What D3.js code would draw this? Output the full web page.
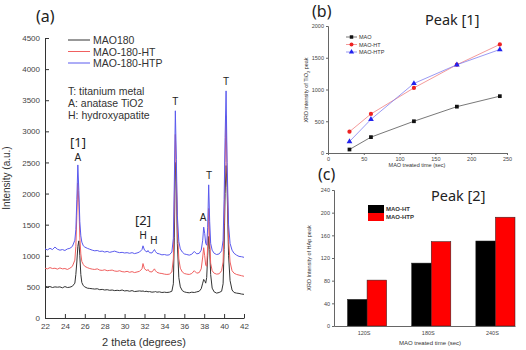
<!DOCTYPE html>
<html>
<head>
<meta charset="utf-8">
<script src="https://cdn.jsdelivr.net/npm/d3@7"></script>
<style>
body{margin:0;background:#fff}
text{font-family:"Liberation Sans",Arial,sans-serif}
.big{font-family:"Noto Sans","Open Sans",sans-serif}
</style>
</head>
<body>
<div id="chart"></div>
<script>
// ---- panel (a) : XRD patterns ----
var twoTheta = [
  22, 22.25, 22.5, 22.75, 23, 23.25, 23.5, 23.75, 24, 24.25, 24.5, 24.75,
  25, 25.1, 25.2, 25.3, 25.4, 25.5, 25.6, 25.7, 25.85, 26,
  26.25, 26.5, 26.75, 27, 27.25, 27.5, 27.75, 28, 28.25, 28.5, 28.75, 29,
  29.25, 29.5, 29.75, 30, 30.25, 30.5, 30.75, 31, 31.25, 31.5, 31.75, 31.85,
  32, 32.25, 32.35, 32.5, 32.75, 33, 33.1, 33.25, 33.5, 33.75, 34, 34.25,
  34.5, 34.75, 34.9, 35, 35.1, 35.2, 35.3, 35.45, 35.6, 35.8,
  36, 36.25, 36.5, 36.75, 37, 37.25, 37.5, 37.7, 37.85, 37.95,
  38.05, 38.15, 38.25, 38.35, 38.45, 38.55, 38.65, 38.8, 39, 39.25,
  39.5, 39.75, 39.9, 40, 40.1, 40.2, 40.3, 40.45, 40.6, 40.8,
  41, 41.25, 41.5, 41.75, 42];
var mao180 = [
  510, 500, 505, 490, 500, 495, 500, 485, 505, 490, 495, 510,
  560, 700, 900, 1150, 1240, 1000, 700, 570, 520, 500,
  480, 475, 470, 465, 470, 455, 460, 450, 455, 445, 450, 440,
  445, 440, 450, 435, 440, 430, 440, 425, 430, 435, 430, 435,
  425, 430, 420, 425, 415, 420, 425, 415, 420, 410, 415, 410,
  415, 430, 550, 1300, 2500, 2200, 1200, 650, 500, 440,
  420, 410, 405, 415, 410, 420, 430, 470, 560, 620,
  600, 560, 650, 1000, 1310, 1100, 700, 480, 420, 400,
  410, 430, 550, 1100, 2000, 2450, 2100, 1000, 600, 450,
  410, 400, 395, 385, 380];
var mao180HT = [
  800, 790, 810, 795, 800, 785, 805, 790, 795, 780, 800, 830,
  930, 1150, 1650, 2170, 1850, 1300, 1030, 910, 860, 830,
  810, 795, 785, 780, 790, 770, 765, 775, 760, 765, 770, 755,
  750, 760, 745, 740, 750, 735, 745, 730, 740, 750, 790, 875,
  790, 760, 780, 745, 740, 790, 760, 735, 720, 715, 705, 700,
  705, 740, 950, 1900, 2950, 2350, 1450, 950, 800, 740,
  715, 705, 700, 715, 760, 720, 730, 790, 980, 1130,
  1000, 850, 830, 1150, 1760, 1250, 880, 760, 720, 705,
  710, 760, 900, 1500, 2500, 3250, 2300, 1250, 900, 760,
  720, 700, 690, 680, 670];
var mao180HTP = [
  1110, 1095, 1120, 1100, 1140, 1105, 1090, 1100, 1085, 1110, 1120, 1150,
  1250, 1420, 1900, 2460, 2050, 1550, 1320, 1220, 1160, 1140,
  1120, 1105, 1090, 1080, 1085, 1070, 1075, 1060, 1070, 1055, 1065, 1075,
  1060, 1050, 1055, 1045, 1050, 1040, 1050, 1035, 1045, 1060, 1100, 1160,
  1090, 1060, 1085, 1050, 1045, 1100, 1070, 1040, 1030, 1015, 1020, 1010,
  1015, 1060, 1280, 2200, 3330, 2550, 1650, 1230, 1110, 1060,
  1030, 1020, 1010, 1025, 1070, 1030, 1040, 1090, 1250, 1460,
  1360, 1200, 1170, 1450, 2140, 1550, 1200, 1090, 1040, 1020,
  1030, 1080, 1250, 1900, 2900, 3650, 2500, 1500, 1200, 1090,
  1040, 1010, 990, 985, 975];
var xrdNames = ['MAO180', 'MAO-180-HT', 'MAO-180-HTP'];
var xrdColors = ['#333', '#f06060', '#5a5aee'];
// peak labels [2theta, intensity, text]
var peakLabels = [[25.3, 2520, 'A'], [35.1, 3430, 'T'], [40.2, 3750, 'T'],
                  [38.5, 2240, 'T'], [37.9, 1560, 'A'], [31.85, 1270, 'H'], [32.95, 1190, 'H']];

// ---- panel (b) : peak [1] ----
var timeB = [30, 60, 120, 180, 240];
var tio2MAO = [55, 250, 500, 730, 895];
var tio2HT = [335, 615, 1025, 1390, 1710];
var tio2HTP = [180, 530, 1095, 1390, 1630];

// ---- panel (c) : peak [2] ----
var timeC = ['120S', '180S', '240S'];
var hapHT = [47, 111, 150];
var hapHTP = [81, 149, 192];

var W = 526, H = 350;
var svg = d3.select('#chart').append('svg')
    .attr('width', W).attr('height', H);

function styleAxis(size, col){
  return function(g){
    g.selectAll('text').attr('font-size', size).style('fill', '#444');
    g.selectAll('line,path').attr('stroke', col);
  };
}

// ================= (a) =================
var xa = d3.scaleLinear().domain([22, 42]).range([45, 244]);
var ya = d3.scaleLinear().domain([0, 4500]).range([318, 38]);

var ga = svg.append('g');
ga.append('g').attr('transform', 'translate(0,318)')
  .call(d3.axisBottom(xa).tickValues(d3.range(22, 43, 2)).tickSizeInner(-4).tickSizeOuter(0).tickPadding(5))
  .call(styleAxis(8, '#333'));
ga.append('g').attr('transform', 'translate(45,0)')
  .call(d3.axisLeft(ya).tickValues(d3.range(0, 4501, 500)).tickFormat(d3.format('d'))
        .tickSizeInner(-4).tickSizeOuter(0).tickPadding(5))
  .call(styleAxis(8, '#333'));

var lineA = d3.line().x(function(d){ return xa(d[0]); }).y(function(d){ return ya(d[1]); });
[mao180, mao180HT, mao180HTP].forEach(function(s, i){
  ga.append('path')
    .datum(twoTheta.map(function(t, j){ return [t, s[j]]; }))
    .attr('d', lineA).attr('fill', 'none')
    .attr('stroke', xrdColors[i]).attr('stroke-width', 1);
});

ga.selectAll('text.pk').data(peakLabels).enter().append('text')
  .attr('class', 'pk')
  .attr('x', function(d){ return xa(d[0]); })
  .attr('y', function(d){ return ya(d[1]); })
  .attr('text-anchor', 'middle').attr('font-size', 10).style('fill', '#222')
  .text(function(d){ return d[2]; });

ga.append('text').attr('class', 'big').attr('x', 70).attr('y', 147).attr('font-size', 13).style('fill', '#222').text('[1]');
ga.append('text').attr('class', 'big').attr('x', 135).attr('y', 225).attr('font-size', 13).style('fill', '#222').text('[2]');
ga.append('text').attr('class', 'big').attr('x', 36).attr('y', 22).attr('font-size', 16).style('fill', '#222').text('(a)');

var legA = ga.selectAll('g.leg').data(xrdNames).enter().append('g')
  .attr('class', 'leg')
  .attr('transform', function(d, i){ return 'translate(68,' + (40 + i * 11.5) + ')'; });
legA.append('line').attr('x1', 0).attr('x2', 22)
  .attr('stroke', function(d, i){ return xrdColors[i]; }).attr('stroke-width', 1);
legA.append('text').attr('x', 25).attr('y', 4).attr('font-size', 10.5).style('fill', '#333')
  .text(function(d){ return d; });

['T: titanium metal', 'A: anatase TiO2', 'H: hydroxyapatite'].forEach(function(t, i){
  ga.append('text').attr('x', 68).attr('y', 95 + i * 12).attr('font-size', 10.5).style('fill', '#333').text(t);
});

ga.append('text').attr('transform', 'translate(10,178) rotate(-90)')
  .attr('text-anchor', 'middle').attr('font-size', 10).style('fill', '#333').text('Intensity (a.u.)');
ga.append('text').attr('x', 144).attr('y', 346)
  .attr('text-anchor', 'middle').attr('font-size', 11).style('fill', '#333').text('2 theta (degrees)');

// ================= (b) =================
var xb = d3.scaleLinear().domain([0, 250]).range([328, 507]);
var yb = d3.scaleLinear().domain([0, 2000]).range([153, 26]);
var gb = svg.append('g');
gb.append('g').attr('transform', 'translate(0,153)')
  .call(d3.axisBottom(xb).ticks(5).tickSize(2).tickPadding(2))
  .call(styleAxis(5.5, '#666'));
gb.append('g').attr('transform', 'translate(328,0)')
  .call(d3.axisLeft(yb).tickValues([0, 500, 1000, 1500, 2000]).tickFormat(d3.format('d')).tickSize(2).tickPadding(2))
  .call(styleAxis(5.5, '#666'));

var seriesB = [
  {name: 'MAO', vals: tio2MAO, color: '#111', sym: d3.symbolSquare},
  {name: 'MAO-HT', vals: tio2HT, color: '#ee2222', sym: d3.symbolCircle},
  {name: 'MAO-HTP', vals: tio2HTP, color: '#2222ee', sym: d3.symbolTriangle}
];
var lineB = d3.line().x(function(d){ return xb(d[0]); }).y(function(d){ return yb(d[1]); });
var lineColors = ['#555', '#f08080', '#8080f0'];
seriesB.forEach(function(s, i){
  var pts = timeB.map(function(t, j){ return [t, s.vals[j]]; });
  gb.append('path').datum(pts).attr('d', lineB).attr('fill', 'none')
    .attr('stroke', lineColors[i]).attr('stroke-width', 0.8);
  gb.selectAll(null).data(pts).enter().append('path')
    .attr('transform', function(d){ return 'translate(' + xb(d[0]) + ',' + yb(d[1]) + ')'; })
    .attr('d', d3.symbol().type(s.sym).size(14)).attr('fill', s.color);
  var ly = 37 + i * 7.5;
  gb.append('line').attr('x1', 346).attr('x2', 357).attr('y1', ly).attr('y2', ly)
    .attr('stroke', lineColors[i]).attr('stroke-width', 0.8);
  gb.append('path').attr('transform', 'translate(351.5,' + ly + ')')
    .attr('d', d3.symbol().type(s.sym).size(12)).attr('fill', s.color);
  gb.append('text').attr('x', 359).attr('y', ly + 2).attr('font-size', 5.5).style('fill', '#333').text(s.name);
});

var ytB = gb.append('text').attr('transform', 'translate(308,90) rotate(-90)')
  .attr('text-anchor', 'middle').attr('font-size', 5.5).style('fill', '#333');
ytB.append('tspan').text('XRD intensity of TiO');
ytB.append('tspan').attr('font-size', 4).attr('dy', 1.5).text('2');
ytB.append('tspan').attr('dy', -1.5).text(' peak');
gb.append('text').attr('x', 417).attr('y', 167).attr('text-anchor', 'middle')
  .attr('font-size', 5.5).style('fill', '#333').text('MAO treated time (sec)');
gb.append('text').attr('class', 'big').attr('x', 425).attr('y', 25).attr('font-size', 14.5).style('fill', '#222').text('Peak [1]');
gb.append('text').attr('class', 'big').attr('x', 312).attr('y', 17).attr('font-size', 16).style('fill', '#222').text('(b)');

// ================= (c) =================
var xc = d3.scaleBand().domain(timeC).range([334, 515]).paddingInner(0.39).paddingOuter(0.105).align(1);
var xsub = d3.scaleBand().domain(['HT', 'HTP']).range([0, xc.bandwidth()]);
var yc = d3.scaleLinear().domain([0, 240]).range([326, 190]);
var gc = svg.append('g');

gc.append('g').attr('transform', 'translate(334,0)')
  .call(d3.axisLeft(yc).tickValues(d3.range(0, 241, 40)).tickSize(2).tickPadding(2))
  .call(styleAxis(5.5, '#666'));

var barData = timeC.map(function(c, i){ return {cat: c, HT: hapHT[i], HTP: hapHTP[i]}; });
var barColors = {HT: '#000', HTP: '#ff0000'};
barData.forEach(function(d){
  ['HT', 'HTP'].forEach(function(k){
    gc.append('rect')
      .attr('x', xc(d.cat) + xsub(k)).attr('width', xsub.bandwidth())
      .attr('y', yc(d[k])).attr('height', yc(0) - yc(d[k]))
      .attr('fill', barColors[k]).attr('stroke', '#222').attr('stroke-width', 0.5);
  });
});

gc.append('g').attr('transform', 'translate(0,326)')
  .call(d3.axisBottom(xc).tickSize(0).tickPadding(5))
  .call(styleAxis(5.5, '#666'))
  .call(function(g){ g.selectAll('text').attr('dx', -3); });

[['HT', 'MAO-HT'], ['HTP', 'MAO-HTP']].forEach(function(l, i){
  gc.append('rect').attr('x', 368).attr('y', 205 + i * 8).attr('width', 16).attr('height', 8)
    .attr('fill', barColors[l[0]]);
  gc.append('text').attr('x', 386).attr('y', 211 + i * 8).attr('font-size', 6).attr('font-weight', 'bold')
    .style('fill', '#333').text(l[1]);
});

gc.append('text').attr('transform', 'translate(311,258) rotate(-90)')
  .attr('text-anchor', 'middle').attr('font-size', 5.5).style('fill', '#333').text('XRD Intensity of HAp peak');
gc.append('text').attr('x', 430).attr('y', 345).attr('text-anchor', 'middle')
  .attr('font-size', 6).style('fill', '#333').text('MAO treated time (sec)');
gc.append('text').attr('class', 'big').attr('x', 431).attr('y', 201).attr('font-size', 14.5).style('fill', '#222').text('Peak [2]');
gc.append('text').attr('class', 'big').attr('x', 318).attr('y', 180).attr('font-size', 16).style('fill', '#222').text('(c)');
</script>
</body>
</html>
